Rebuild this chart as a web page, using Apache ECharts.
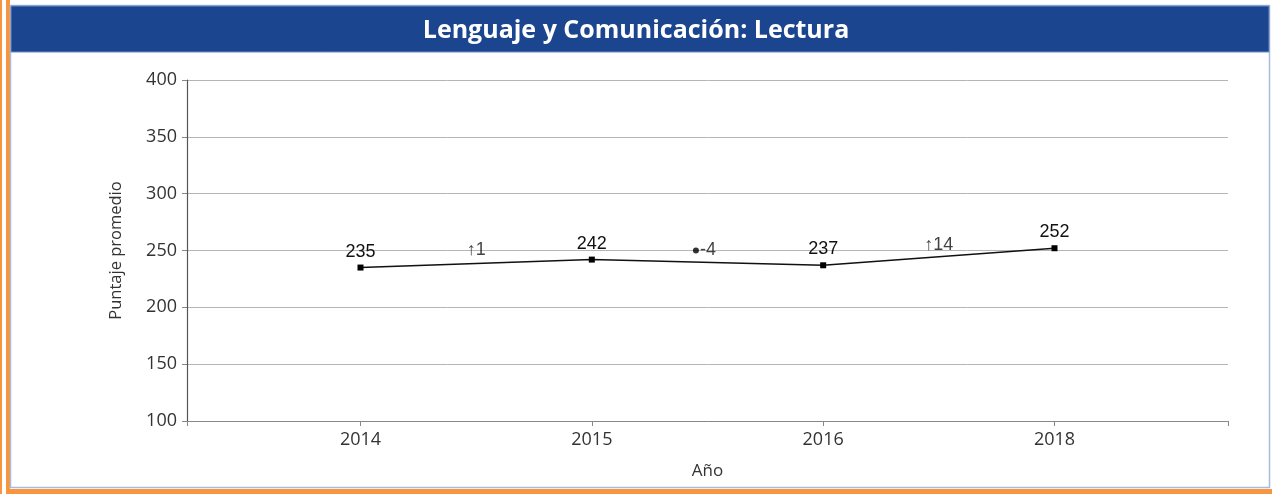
<!DOCTYPE html>
<html>
<head>
<meta charset="utf-8">
<script src="https://cdn.jsdelivr.net/npm/echarts@6/dist/echarts.min.js"></script>
<style>
  html, body { margin: 0; padding: 0; background: #fff; }
  #main { width: 1272px; height: 494px; }
</style>
</head>
<body>
<div id="main"></div>
<script>
// datos del grafico
let anios = ['2014', '2015', '2016', '2018'];
let puntajes = [235, 242, 237, 252];
let cambios = ['\u21911', '-4', '\u219114'];
let cambioX = [0.5, 1.45, 2.5];
let cambioY = [250, 250, 255];
let yTicks = [100, 150, 200, 250, 300, 350, 400];

var dom = document.getElementById('main');
var myChart = echarts.init(dom);
var option;

option = {
    animation: false,
    title: {
        text: 'Lenguaje y Comunicación: Lectura',
        left: 'center',
        top: 13,
        textStyle: { color: '#fff', fontFamily: 'Open Sans', fontWeight: 'bold', fontSize: 25 }
    },
    graphic: [
        // marco naranjo
        { type: 'rect', shape: { x: 0, y: 0, width: 2, height: 494 }, style: { fill: '#F7963F' }, z: -10 },
        { type: 'rect', shape: { x: 6, y: 0, width: 4, height: 494 }, style: { fill: '#F7963F' }, z: -10 },
        { type: 'rect', shape: { x: 6, y: 489, width: 1266, height: 5 }, style: { fill: '#F7963F' }, z: -10 },
        // borde celeste
        { type: 'rect', shape: { x: 10.5, y: 5.5, width: 1259, height: 482 }, style: { fill: '#fff', stroke: '#A8BBDF', lineWidth: 1.5 }, z: -9 },
        // barra del titulo
        { type: 'rect', shape: { x: 11, y: 6, width: 1258, height: 46 }, style: { fill: '#1B458F', stroke: '#6F8CC4', lineWidth: 1 }, z: -8 }
    ],
    grid: { left: 187, right: 44, top: 80, bottom: 73 },
    xAxis: {
        type: 'value',
        min: -0.75,
        max: 3.75,
        name: 'Año',
        nameLocation: 'middle',
        nameGap: 42,
        nameTextStyle: { fontFamily: 'Open Sans', fontSize: 17, color: '#333' },
        axisLine: { onZero: false, lineStyle: { color: '#888', width: 1 } },
        axisTick: { show: true, length: 5, customValues: [-0.75, 0, 1, 2, 3, 3.75], lineStyle: { color: '#888' } },
        axisLabel: {
            customValues: [0, 1, 2, 3],
            margin: 10,
            fontFamily: 'Open Sans',
            fontSize: 18,
            color: '#333',
            formatter: function (v) { return anios[Math.round(v)]; }
        },
        splitLine: { show: false }
    },
    yAxis: {
        type: 'value',
        min: 100,
        max: 400,
        interval: 50,
        name: 'Puntaje promedio',
        nameLocation: 'middle',
        nameGap: 62,
        nameTextStyle: { fontFamily: 'Open Sans', fontSize: 16.5, color: '#333' },
        axisLine: { show: true, onZero: false, lineStyle: { color: '#555', width: 1.2 } },
        axisTick: { show: true, length: 5, lineStyle: { color: '#888' } },
        axisLabel: {
            margin: 10,
            fontFamily: 'Open Sans',
            fontSize: 18,
            color: '#333',
            customValues: yTicks
        },
        splitLine: { show: true, lineStyle: { color: '#b5b5b5', width: 1 } }
    },
    series: [
        {
            type: 'line',
            data: puntajes.map((v, i) => [i, v]),
            symbol: 'rect',
            symbolSize: 6,
            itemStyle: { color: '#000' },
            lineStyle: { color: '#111', width: 1.5 },
            label: {
                show: true,
                position: 'top',
                distance: 4,
                fontFamily: 'Liberation Sans',
                fontSize: 18,
                color: '#111',
                formatter: function (p) { return p.value[1]; }
            }
        },
        {
            type: 'scatter',
            data: cambios.map((t, i) => {
                let punto = t.charAt(0) === '-';
                return {
                    value: [cambioX[i], cambioY[i]],
                    symbol: 'circle',
                    symbolSize: punto ? 6 : 1,
                    itemStyle: { color: punto ? '#000' : 'rgba(0,0,0,0)' },
                    label: { position: punto ? 'right' : 'inside', distance: 1 }
                };
            }),
            label: {
                show: true,
                fontFamily: 'Liberation Sans',
                fontSize: 18,
                color: '#111',
                formatter: function (p) { return cambios[p.dataIndex]; }
            },
            z: 3
        }
    ]
};

if (option && typeof option === 'object') {
    myChart.setOption(option);
}
</script>
</body>
</html>
